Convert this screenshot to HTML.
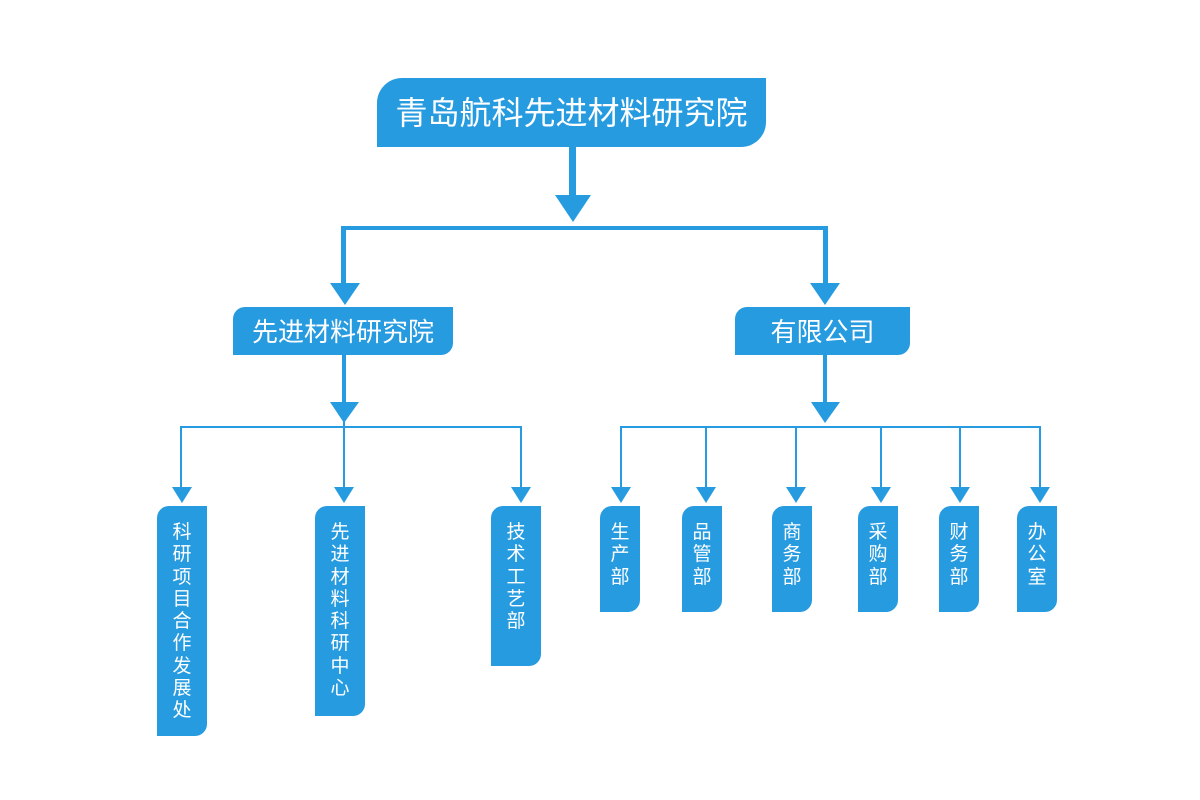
<!DOCTYPE html>
<html><head><meta charset="utf-8"><style>
body{margin:0;width:1200px;height:800px;background:#fff;position:relative;overflow:hidden;font-family:"Liberation Sans","Noto Sans CJK SC",sans-serif;}
.b{position:absolute;background:#279be0;color:#fff;box-sizing:border-box;}
.top{left:377px;top:78px;width:389px;height:69px;border-radius:25px 0 25px 0;font-size:32px;line-height:70px;text-align:center;}
.mid{top:307px;height:48px;border-radius:12px 0 12px 0;font-size:26px;line-height:50px;text-align:center;}
.leaf{top:506px;width:50px;border-radius:12px 0 12px 0;font-size:19px;line-height:22.3px;text-align:center;padding-top:16px;}
.leaf.s{width:40px;height:106px;}
svg{position:absolute;left:0;top:0;}
</style></head><body>
<svg width="1200" height="800">
<g fill="#279be0" stroke="none">
<rect x="569" y="146" width="7" height="50"/>
<polygon points="555,195 591,195 573,222"/>
<rect x="341" y="226" width="487" height="4"/>
<rect x="341" y="226" width="5" height="58"/>
<rect x="823" y="226" width="5" height="58"/>
<polygon points="330,283 360,283 345,305"/>
<polygon points="810,283 840,283 825,305"/>
<rect x="342" y="354" width="4" height="49"/>
<rect x="823" y="354" width="4" height="49"/>
<polygon points="330,402 359,402 344,423"/>
<polygon points="811,402 840,402 825,423"/>
</g>
<g stroke="#279be0" stroke-width="2" fill="none">
<polyline points="181,488 181,427 521,427 521,488"/>
<line x1="344" y1="420" x2="344" y2="488"/>
<polyline points="621,488 621,427 1040,427 1040,488"/>
<line x1="706" y1="427" x2="706" y2="488"/>
<line x1="796" y1="427" x2="796" y2="488"/>
<line x1="881" y1="427" x2="881" y2="488"/>
<line x1="960" y1="427" x2="960" y2="488"/>
</g>
<g fill="#279be0">
<polygon points="172,487 192,487 182,503"/>
<polygon points="334,487 354,487 344,503"/>
<polygon points="511,487 531,487 521,503"/>
<polygon points="611,487 631,487 621,503"/>
<polygon points="696,487 716,487 706,503"/>
<polygon points="786,487 806,487 796,503"/>
<polygon points="871,487 891,487 881,503"/>
<polygon points="950,487 970,487 960,503"/>
<polygon points="1030,487 1050,487 1040,503"/>
</g>
</svg>
<div class="b top">青岛航科先进材料研究院</div>
<div class="b mid" style="left:233px;width:220px;">先进材料研究院</div>
<div class="b mid" style="left:735px;width:175px;">有限公司</div>
<div class="b leaf" style="left:157px;height:230px;">科<br>研<br>项<br>目<br>合<br>作<br>发<br>展<br>处</div>
<div class="b leaf" style="left:315px;height:210px;">先<br>进<br>材<br>料<br>科<br>研<br>中<br>心</div>
<div class="b leaf" style="left:491px;height:160px;">技<br>术<br>工<br>艺<br>部</div>
<div class="b leaf s" style="left:600px;">生<br>产<br>部</div>
<div class="b leaf s" style="left:682px;">品<br>管<br>部</div>
<div class="b leaf s" style="left:772px;">商<br>务<br>部</div>
<div class="b leaf s" style="left:858px;">采<br>购<br>部</div>
<div class="b leaf s" style="left:939px;">财<br>务<br>部</div>
<div class="b leaf s" style="left:1017px;">办<br>公<br>室</div>
</body></html>
